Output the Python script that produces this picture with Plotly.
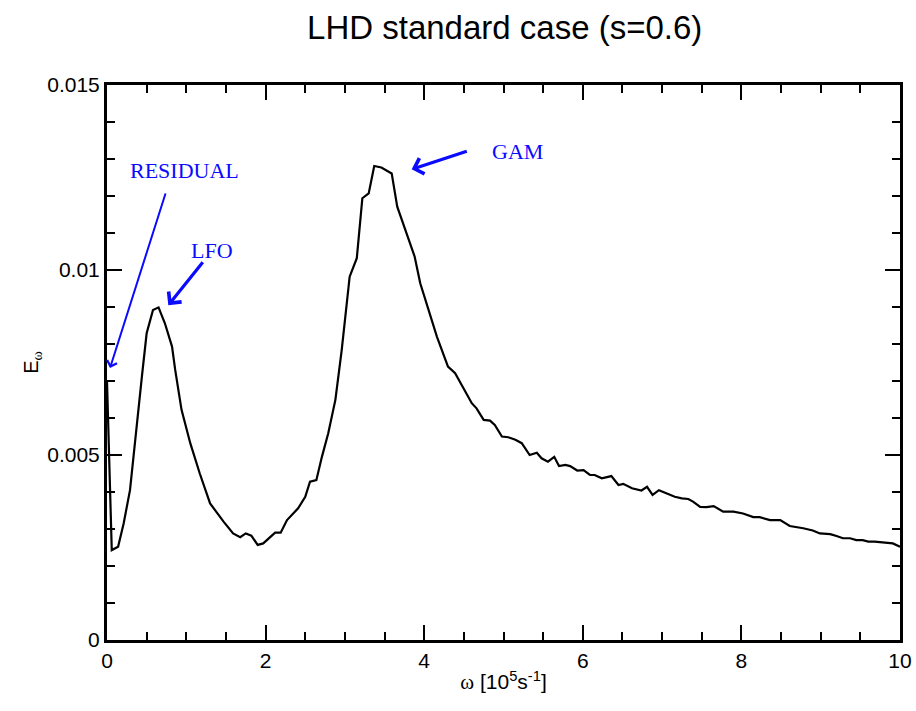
import plotly.graph_objects as go

# --- data ------------------------------------------------------------------
omega = [0.0, 0.06, 0.14, 0.21, 0.29, 0.37, 0.44, 0.50, 0.58, 0.65, 0.73,
         0.82, 0.86, 0.94, 1.05, 1.17, 1.30, 1.47, 1.59, 1.68, 1.75, 1.82,
         1.90, 1.97, 2.12, 2.19, 2.27, 2.41, 2.50, 2.56, 2.64, 2.71, 2.79,
         2.88, 2.96, 3.06, 3.15, 3.22, 3.30, 3.37, 3.46, 3.59, 3.66, 3.88,
         3.95, 4.16, 4.30, 4.39, 4.45, 4.60, 4.66, 4.75, 4.83, 4.89, 4.98,
         5.06, 5.15, 5.23, 5.33, 5.42, 5.48, 5.56, 5.64, 5.70, 5.78, 5.84,
         5.93, 6.01, 6.09, 6.15, 6.24, 6.36, 6.45, 6.51, 6.62, 6.74, 6.81,
         6.88, 6.96, 7.04, 7.16, 7.25, 7.33, 7.39, 7.48, 7.56, 7.65, 7.77,
         7.90, 8.02, 8.15, 8.23, 8.36, 8.49, 8.61, 8.78, 8.90, 8.99, 9.12,
         9.20, 9.28, 9.37, 9.45, 9.53, 9.60, 9.68, 9.79, 9.91, 10.0]
energy = [0.00700, 0.00243, 0.00252, 0.00315, 0.00405, 0.00576, 0.00712,
          0.00829, 0.00892, 0.00899, 0.00856, 0.00793, 0.00730, 0.00622,
          0.00532, 0.00450, 0.00369, 0.00320, 0.00288, 0.00278, 0.00288,
          0.00282, 0.00257, 0.00261, 0.00290, 0.00290, 0.00324, 0.00356,
          0.00387, 0.00428, 0.00432, 0.00495, 0.00559, 0.00649, 0.00784,
          0.00982, 0.01032, 0.01194, 0.01207, 0.01281, 0.01277, 0.01261,
          0.01171, 0.01036, 0.00964, 0.00820, 0.00739, 0.00721, 0.00698,
          0.00640, 0.00626, 0.00595, 0.00593, 0.00581, 0.00550, 0.00548,
          0.00541, 0.00532, 0.00500, 0.00506, 0.00491, 0.00482, 0.00495,
          0.00470, 0.00473, 0.00470, 0.00458, 0.00459, 0.00446, 0.00446,
          0.00437, 0.00443, 0.00419, 0.00422, 0.00410, 0.00404, 0.00414,
          0.00392, 0.00405, 0.00398, 0.00387, 0.00383, 0.00381, 0.00374,
          0.00360, 0.00359, 0.00362, 0.00347, 0.00347, 0.00342, 0.00332,
          0.00332, 0.00324, 0.00324, 0.00308, 0.00302, 0.00296, 0.00288,
          0.00286, 0.00281, 0.00275, 0.00275, 0.00270, 0.00270, 0.00266,
          0.00266, 0.00263, 0.00261, 0.00252]

# label text, label position, arrow tail, arrow tip, arrow width
labels = ["RESIDUAL", "LFO", "GAM"]
label_pos = [(0.98, 0.0127), (1.32, 0.01054), (5.18, 0.01319)]
arrow_tail = [(0.744, 0.01211), (1.223, 0.01025), (4.556, 0.01322)]
arrow_tip = [(0.038, 0.00735), (0.773, 0.00905), (3.842, 0.01272)]
arrow_w = [2, 3.2, 3.2]

BLUE = "#0a0aff"

fig = go.Figure()
fig.add_trace(go.Scatter(
    x=omega, y=energy, mode="lines",
    line=dict(color="black", width=2.2),
    showlegend=False,
))

for txt, pos, tail, tip, w in zip(labels, label_pos, arrow_tail, arrow_tip, arrow_w):
    # arrow only
    fig.add_annotation(
        x=tip[0], y=tip[1], ax=tail[0], ay=tail[1],
        xref="x", yref="y", axref="x", ayref="y",
        text="", showarrow=True, arrowhead=4, arrowsize=1,
        arrowwidth=w, arrowcolor=BLUE, standoff=0, startstandoff=0,
    )
    # label only
    fig.add_annotation(
        x=pos[0], y=pos[1], xref="x", yref="y", text=txt, showarrow=False,
        font=dict(family="Liberation Serif", size=22, color=BLUE),
    )

axis_common = dict(
    showline=True, linecolor="black", linewidth=3, mirror="ticks",
    ticks="inside", ticklen=15, tickwidth=2, tickcolor="black",
    showgrid=False, zeroline=False, automargin=False,
    tickfont=dict(family="Liberation Sans", size=21, color="black"),
)

fig.update_xaxes(
    range=[0, 10], dtick=2, tick0=0,
    minor=dict(dtick=0.5, ticks="inside", ticklen=8, tickwidth=2,
               tickcolor="black", showgrid=False),
    title=dict(
        text="<span style='font-family:Liberation Serif'>ω</span> [10<sup>5</sup>s<sup>-1</sup>]",
        font=dict(family="Liberation Sans", size=21, color="black"),
        standoff=4,
    ),
    **axis_common,
)
fig.update_yaxes(
    range=[0, 0.015], dtick=0.005, tick0=0,
    minor=dict(dtick=0.001, ticks="inside", ticklen=8, tickwidth=2,
               tickcolor="black", showgrid=False),
    title=dict(
        text="E<sub><span style='font-family:Liberation Serif'>ω</span></sub>",
        font=dict(family="Liberation Sans", size=20, color="black"),
        standoff=4,
    ),
    **axis_common,
)

fig.update_layout(
    width=916, height=711,
    margin=dict(l=107, r=16, t=85, b=71),
    plot_bgcolor="white", paper_bgcolor="white",
    title=dict(
        text="LHD standard case (s=0.6)",
        font=dict(family="Liberation Sans", size=33, color="black"),
        x=0.551, xanchor="center", y=0.962, yanchor="middle",
    ),
)

# drop the browser's default 8px body margin so the figure sits at (0, 0)
fig.write_html("out.html", config={"displayModeBar": False},
               post_script="document.body.style.margin='0';")
